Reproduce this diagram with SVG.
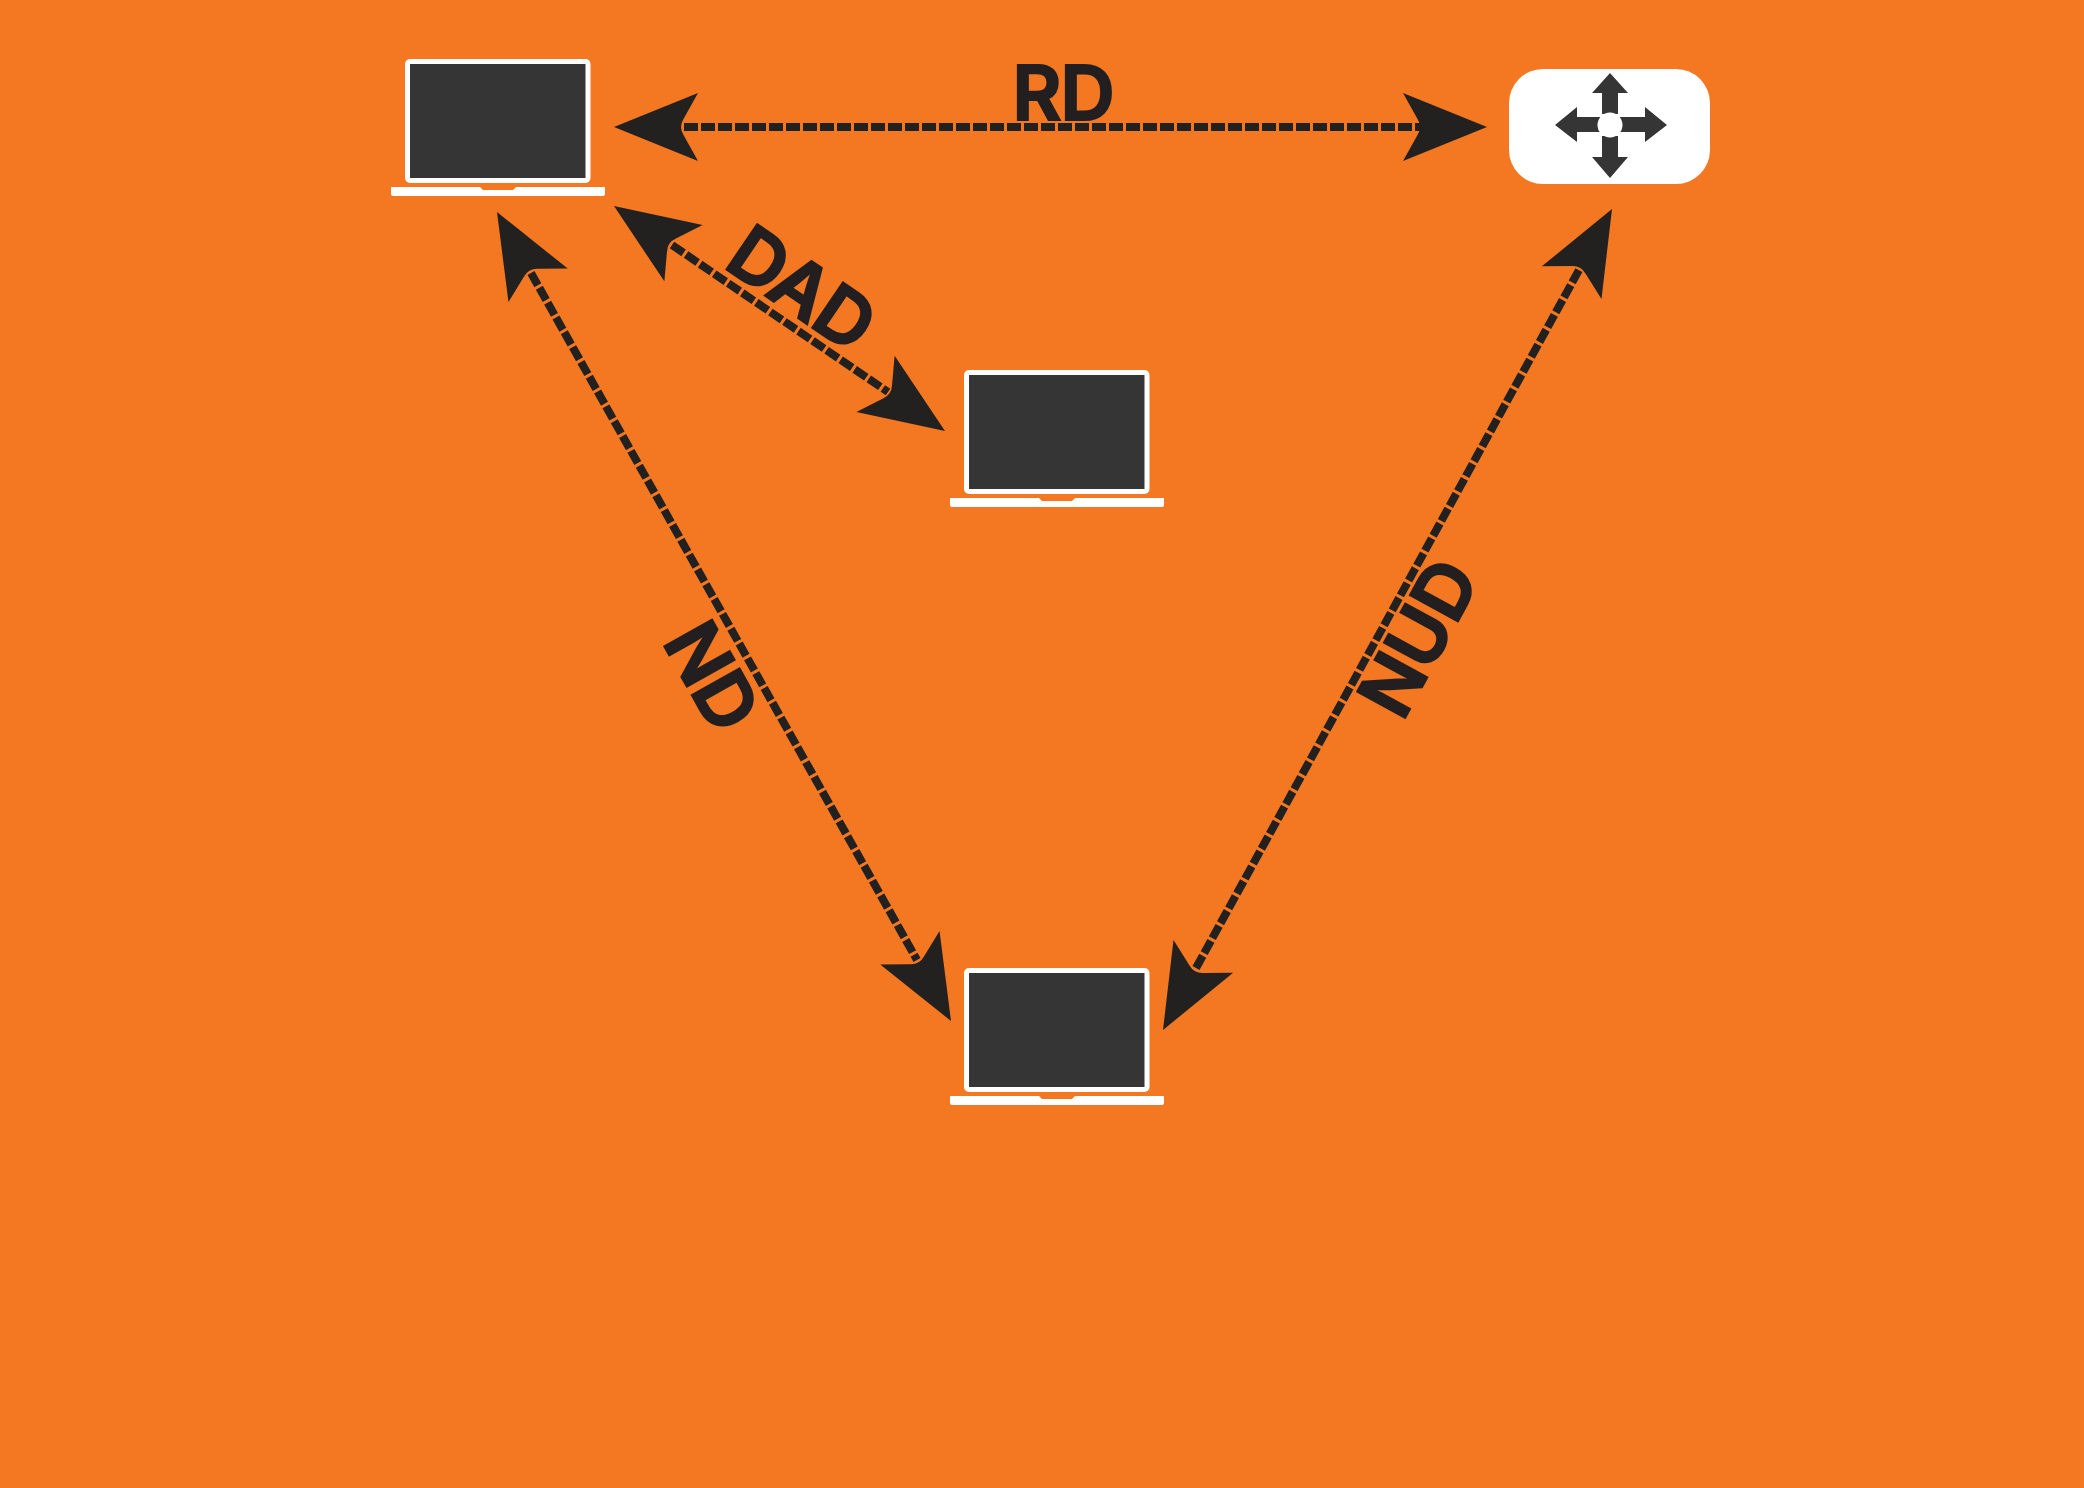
<svg xmlns="http://www.w3.org/2000/svg" width="2084" height="1488" viewBox="0 0 2084 1488">
<style>
.conn{fill:none;stroke:#222120;stroke-width:8;stroke-dasharray:14 3}
.head{fill:#222120}
.lbl{font-family:"Inter","Liberation Sans",sans-serif;font-weight:600;font-size:75px;fill:#231f20;stroke:#231f20;stroke-width:2.200;text-anchor:middle;letter-spacing:-1px}
.w{fill:#fff}
.d{fill:#353535}
</style>
<defs>
<path id="ah" d="M0 0L-84 -34L-69.500 -8Q-64.500 0 -69.500 8L-84 34Z"/>
<g id="laptop">
<rect class="w" x="0" y="0" width="185.500" height="124" rx="5"/>
<rect class="d" x="5" y="5" width="175.500" height="114"/>
<path class="w" d="M-14 128H75L78 131H108L111 128H200V135Q200 137 198 137H-12Q-14 137 -14 135Z"/>
</g>
</defs>
<rect width="2084" height="1488" fill="#f47721"/>
<g id="connectors">
<path class="conn" d="M684 127H1421"/>
<path class="conn" d="M672 245L888 392"/>
<path class="conn" d="M531 273L917 960"/>
<path class="conn" d="M1196 968L1579 270"/>
<use class="head" href="#ah" transform="translate(614 127) rotate(180)"/>
<use class="head" href="#ah" transform="translate(1487 127)"/>
<use class="head" href="#ah" transform="translate(614 206) rotate(214.200)"/>
<use class="head" href="#ah" transform="translate(945 431) rotate(34.200)"/>
<use class="head" href="#ah" transform="translate(497 212) rotate(240.700)"/>
<use class="head" href="#ah" transform="translate(951 1021) rotate(60.700)"/>
<use class="head" href="#ah" transform="translate(1612 209) rotate(-61.300)"/>
<use class="head" href="#ah" transform="translate(1163 1030) rotate(118.700)"/>
</g>
<g id="laptop-1"><use href="#laptop" x="405" y="59"/></g>
<g id="laptop-2"><use href="#laptop" x="964" y="370"/></g>
<g id="laptop-3"><use href="#laptop" x="964" y="968"/></g>
<g id="router">
<rect class="w" x="1509" y="69" width="201" height="115" rx="34"/>
<path class="d" d="M1610 73L1628 93H1618V114H1602V93H1592Z"/>
<path class="d" d="M1610 178L1628 157H1618V136H1602V157H1592Z"/>
<path class="d" d="M1555 125L1577 107V117H1600V132H1577V142Z"/>
<path class="d" d="M1667 125L1645 107V117H1620V132H1645V142Z"/>
<circle class="w" cx="1610" cy="125" r="12.500"/>
</g>
<g id="labels">
<text class="lbl" transform="translate(1063 93)" y="27">RD</text>
<text class="lbl" transform="translate(802 288) rotate(34.200)" y="27">DAD</text>
<text class="lbl" transform="translate(712 676) rotate(60.700)" y="27">ND</text>
<text class="lbl" transform="translate(1418 638) rotate(-61.300)" y="27">NUD</text>
</g>
</svg>
